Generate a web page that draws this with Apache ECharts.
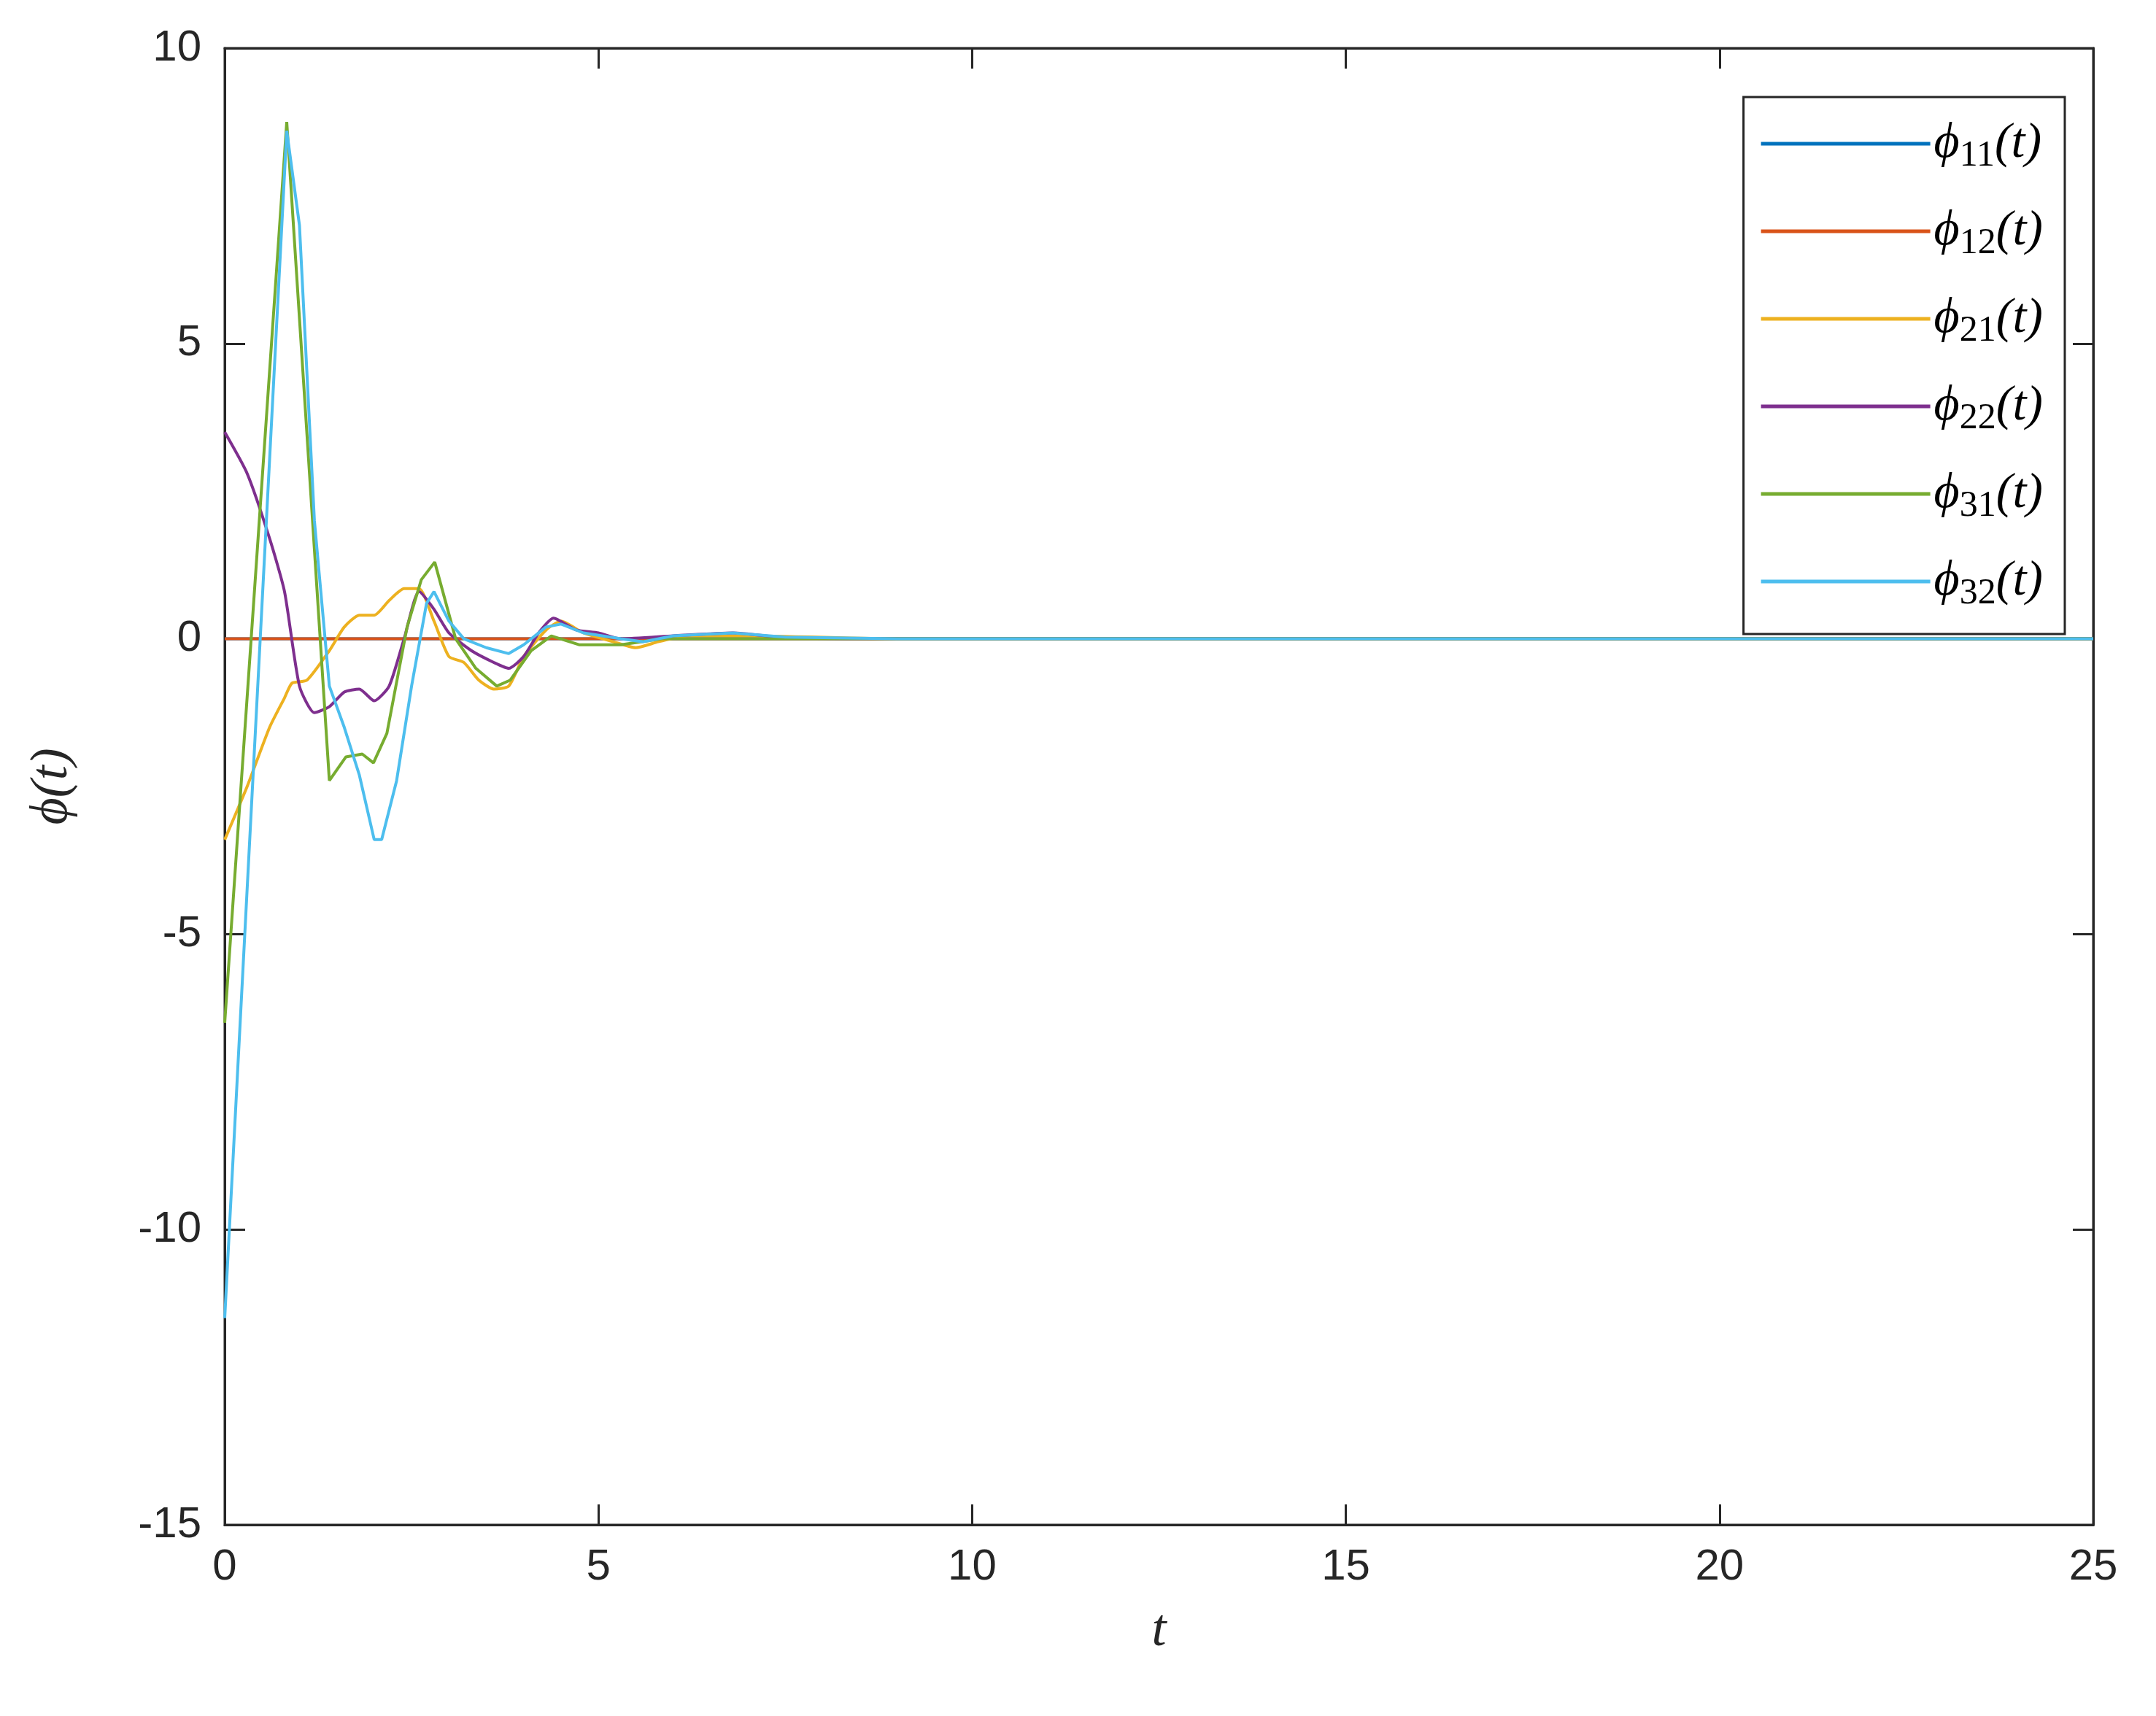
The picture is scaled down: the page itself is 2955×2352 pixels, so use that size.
<!DOCTYPE html>
<html><head><meta charset="utf-8">
<script src="https://cdn.jsdelivr.net/npm/echarts@6/dist/echarts.min.js"></script>
<style>html,body{margin:0;background:#fff}#c{width:2955px;height:2352px}</style>
</head><body><div id="c"></div>
<script>
const names = ['φ11','φ12','φ21','φ22','φ31','φ32'];
const colors = ['#0072BD','#D95319','#EDB120','#7E2F8E','#77AC30','#4DBEEE'];
const phi11 = [[0,0],[25,0]];
const phi12 = [[0,0],[25,0]];
const phi21 = [[0,-3.4],[0.3,-2.5],[0.6,-1.5],[0.8,-1.0],[0.9,-0.75],[1.1,-0.7],[1.4,-0.2],[1.6,0.2],[1.8,0.4],[2.0,0.4],[2.2,0.65],[2.4,0.85],[2.6,0.85],[2.8,0.3],[3.0,-0.3],[3.2,-0.4],[3.4,-0.7],[3.6,-0.85],[3.8,-0.8],[4.0,-0.3],[4.3,0.15],[4.5,0.3],[4.8,0.1],[5.2,-0.05],[5.5,-0.15],[5.8,-0.05],[6.2,0.05],[7,0.05],[9,0],[25,0]];
const phi22 = [[0,3.5],[0.3,2.8],[0.6,1.7],[0.8,0.8],[1.0,-0.8],[1.2,-1.25],[1.4,-1.15],[1.6,-0.9],[1.8,-0.85],[2.0,-1.05],[2.2,-0.8],[2.4,0.0],[2.6,0.8],[2.8,0.5],[3.0,0.1],[3.3,-0.2],[3.6,-0.4],[3.8,-0.5],[4.0,-0.3],[4.2,0.1],[4.4,0.35],[4.7,0.15],[5.0,0.1],[5.3,0.0],[6.0,0.05],[6.8,0.1],[7.5,0.02],[9,0],[25,0]];
const phi31 = [[0,-6.5],[0.83,8.75],[1.4,-2.4],[1.62,-2.0],[1.84,-1.95],[1.99,-2.1],[2.17,-1.6],[2.44,0.2],[2.63,1.0],[2.81,1.3],[3.09,0],[3.36,-0.5],[3.64,-0.8],[3.82,-0.7],[4.1,-0.2],[4.37,0.05],[4.74,-0.1],[5.3,-0.1],[5.85,0],[9,0],[25,0]];
const phi32 = [[0,-11.5],[0.83,8.6],[1.0,7.0],[1.2,2.0],[1.4,-0.8],[1.6,-1.5],[1.8,-2.3],[2.0,-3.4],[2.1,-3.4],[2.3,-2.4],[2.5,-0.8],[2.7,0.6],[2.8,0.8],[3.0,0.3],[3.2,0.0],[3.5,-0.15],[3.8,-0.25],[4.0,-0.1],[4.3,0.2],[4.5,0.25],[4.8,0.1],[5.3,0.0],[5.6,-0.05],[6,0.05],[6.8,0.1],[7.5,0.03],[9,0],[25,0]];
const data = [phi11,phi12,phi21,phi22,phi31,phi32];
const smoothing = [0,0,0.2,0.2,0,0];

const chart = echarts.init(document.getElementById('c'));
const line = {show:true,onZero:false,lineStyle:{color:'#262626',width:3}};
const tick = {show:true,inside:true,length:28,lineStyle:{color:'#262626',width:3}};
const lab = {color:'#262626',fontSize:60,fontFamily:'Liberation Sans'};
const nameStyle = {fontSize:72,fontStyle:'italic',fontFamily:'Liberation Serif',color:'#262626'};
chart.setOption({
  animation:false,
  backgroundColor:'#fff',
  grid:{left:308,right:86,top:66,bottom:262,show:true,borderColor:'#262626',borderWidth:3},
  xAxis:[
    {type:'value',min:0,max:25,interval:5,name:'t',nameLocation:'middle',nameGap:110,nameTextStyle:nameStyle,
     axisLine:line,axisTick:tick,splitLine:{show:false},axisLabel:Object.assign({margin:28},lab)},
    {type:'value',position:'top',min:0,max:25,interval:5,axisLine:line,axisTick:tick,splitLine:{show:false},axisLabel:{show:false}}
  ],
  yAxis:[
    {type:'value',min:-15,max:10,interval:5,name:'ϕ(t)',nameLocation:'middle',nameGap:200,nameTextStyle:nameStyle,
     axisLine:line,axisTick:tick,splitLine:{show:false},axisLabel:Object.assign({margin:32},lab)},
    {type:'value',position:'right',min:-15,max:10,interval:5,axisLine:line,axisTick:tick,splitLine:{show:false},axisLabel:{show:false}}
  ],
  legend:{orient:'vertical',right:125,top:133,itemWidth:232,itemHeight:5,itemGap:44,
    padding:[30,30,30,24],borderColor:'#262626',borderWidth:3,backgroundColor:'#fff',
    icon:'rect',
    formatter:n=>'{p|ϕ}{s|'+n.slice(1)+'}{p|(t)}',
    textStyle:{rich:{p:{fontSize:68,fontFamily:'Liberation Serif',fontStyle:'italic',color:'#000'},
      s:{fontSize:50,fontFamily:'Liberation Serif',color:'#000',verticalAlign:'bottom',padding:[34,0,0,0]}}}},
  series:names.map((n,i)=>({name:n,type:'line',data:data[i],smooth:smoothing[i],showSymbol:false,
    lineStyle:{color:colors[i],width:4},itemStyle:{color:colors[i]},z:i+2}))
});
</script></body></html>
